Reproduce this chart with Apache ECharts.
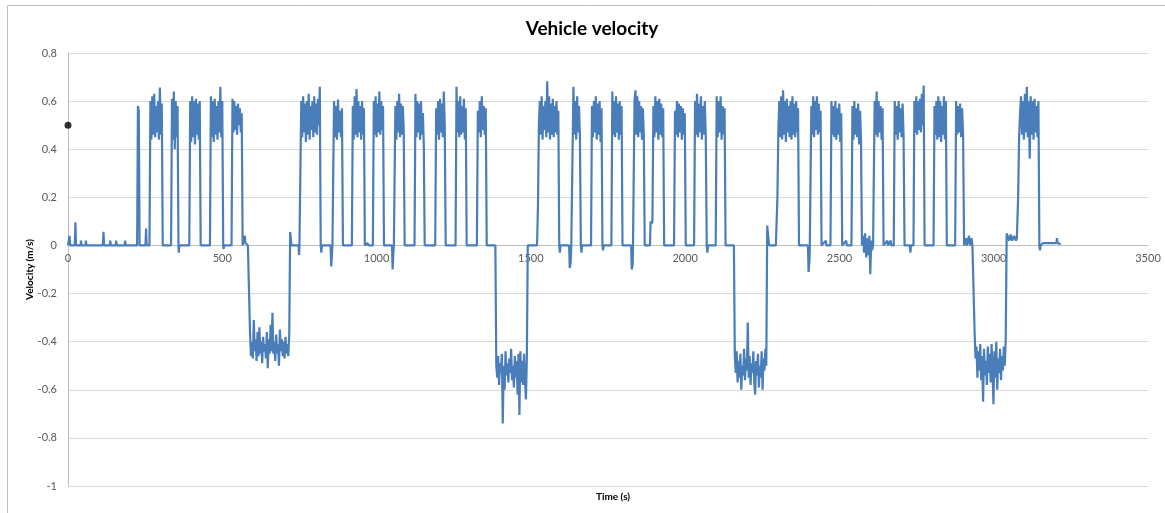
<!DOCTYPE html>
<html>
<head>
<meta charset="utf-8">
<title>Vehicle velocity</title>
<script src="https://cdn.jsdelivr.net/npm/echarts@6/dist/echarts.min.js"></script>
<style>
  html, body { margin: 0; padding: 0; background: #fff; }
  #chart { width: 1165px; height: 513px; }
</style>
</head>
<body>
<div id="chart"></div>
<script>
// axis ticks
var xTicks = [0, 500, 1000, 1500, 2000, 2500, 3000, 3500];
var yTicks = [-1, -0.8, -0.6, -0.4, -0.2, 0, 0.2, 0.4, 0.6, 0.8];

// single marker near the start
var markerPoint = [0, 0.5];

// samples on the zero line and small spikes between the runs (time s, velocity m/s)
var baseTime = [0, 4, 5, 7, 22, 24, 26, 41, 42, 44, 57, 58, 60, 113, 115, 117, 136, 137, 139,
  155, 156, 158, 184, 185, 187, 198, 199, 201, 251, 253, 255, 359, 361, 504, 506,
  572, 573, 575, 583, 724, 747, 749, 750, 821, 823, 851, 853, 856, 857, 970, 975,
  1050, 1052, 1054, 1056, 1594, 1596, 1624, 1626, 1629, 1631, 1664, 1666, 1734, 1736,
  1825, 1827, 1830, 1831, 1886, 1888, 1891, 2072, 2074, 2272, 2294,
  2398, 2400, 2403, 2404, 2456, 2458, 2522, 2524,
  2576, 2580, 2583, 2587, 2590, 2594, 2597, 2600, 2603, 2606, 2609,
  2655, 2657, 2666, 2668, 2728, 2730, 2732, 2910, 2913, 2920, 2923, 2928, 2931,
  3045, 3050, 3055, 3060, 3066, 3072, 3075,
  3150, 3152, 3160, 3170, 3190, 3203, 3205, 3207, 3217];
var baseValue = [0, 0, 0.04, 0, 0, 0.096, 0, 0, 0.02, 0, 0, 0.02, 0, 0, 0.057, 0, 0, 0.02, 0,
  0, 0.02, 0, 0, 0.02, 0, 0, -0.006, 0, 0, 0.07, 0, -0.03, 0, -0.015, 0,
  0, 0.04, 0.01, 0, 0, 0, -0.04, 0, -0.03, 0, 0, -0.087, -0.087, 0, 0.01, 0,
  0, -0.1, -0.04, 0, -0.03, 0, 0, -0.094, -0.07, 0, -0.03, 0, -0.02, 0,
  0, -0.1, -0.08, 0, 0, 0.1, 0.09, -0.03, 0, 0, 0,
  0, -0.11, -0.06, 0, 0.02, 0, 0.02, 0,
  0.04, -0.03, 0.05, -0.05, 0.03, -0.04, 0.04, -0.12, 0.02, -0.02, 0,
  0.02, 0, 0.02, 0, 0, -0.03, 0, 0.03, 0, 0.04, 0, 0.03, 0,
  0.05, 0.02, 0.045, 0.02, 0.04, 0.02, 0.03,
  -0.02, 0, 0.01, 0.01, 0.01, 0.01, 0.03, 0.01, 0.005];

// runs: start time, end time, and the readings spread evenly between them
var segStart = [224, 264, 334, 393, 460, 530, 587, 753, 859, 920, 988, 1058, 1123, 1190, 1256, 1325,
  1385, 1520, 1635, 1695, 1761, 1833, 1894, 1964, 2029, 2099, 2158, 2296, 2406, 2471, 2539,
  2611, 2676, 2740, 2805, 2875, 2935, 3076];
var segEnd = [232, 307, 358, 430, 503, 566, 720, 819, 891, 962, 1024, 1091, 1156, 1224, 1292, 1357,
  1490, 1592, 1662, 1732, 1797, 1869, 1932, 2002, 2070, 2131, 2266, 2369, 2442, 2509, 2573,
  2643, 2711, 2776, 2848, 2904, 3042, 3148];
var segValues = [
  [0, 0.58, 0.56, 0],
  [0, 0.6, 0.44, 0.62, 0.46, 0.63, 0.45, 0.58, 0.47, 0.6, 0.44, 0.656, 0.46, 0.59, 0],
  [0, 0.61, 0.44, 0.64, 0.4, 0.6, 0.45, 0.58, 0],
  [0, 0.6, 0.43, 0.62, 0.45, 0.6, 0.42, 0.61, 0.46, 0.59, 0.44, 0.6, 0],
  [0, 0.62, 0.45, 0.6, 0.43, 0.61, 0.46, 0.58, 0.44, 0.6, 0.47, 0.66, 0.45, 0.6, 0],
  [0, 0.61, 0.47, 0.6, 0.48, 0.58, 0.46, 0.59, 0.5, 0.57, 0.47, 0.55, 0],
  [0, -0.37, -0.46, -0.4, -0.47, -0.31, -0.44, -0.39, -0.48, -0.36, -0.46, -0.34, -0.45, -0.4, -0.49,
    -0.38, -0.44, -0.41, -0.47, -0.36, -0.51, -0.39, -0.45, -0.33, -0.44, -0.28, -0.45, -0.4, -0.48,
    -0.37, -0.45, -0.41, -0.5, -0.35, -0.44, -0.39, -0.46, -0.4, -0.47, -0.38, -0.45, -0.41, -0.46, -0.37, 0.056],
  [0, 0.6, 0.45, 0.62, 0.47, 0.59, 0.43, 0.6, 0.46, 0.63, 0.44, 0.58, 0.48, 0.6, 0.45, 0.62, 0.47, 0.59, 0.46, 0.61, 0.5, 0.66, 0],
  [0, 0.6, 0.45, 0.58, 0.44, 0.607, 0.47, 0.56, 0.45, 0.57, 0],
  [0, 0.58, 0.44, 0.62, 0.46, 0.65, 0.45, 0.6, 0.47, 0.58, 0.44, 0.6, 0.46, 0.57, 0],
  [0, 0.6, 0.46, 0.62, 0.45, 0.59, 0.47, 0.64, 0.46, 0.6, 0.48, 0.58, 0],
  [0, 0.58, 0.44, 0.6, 0.47, 0.63, 0.45, 0.59, 0.46, 0.58, 0.48, 0],
  [0, 0.63, 0.45, 0.6, 0.47, 0.59, 0.44, 0.6, 0.46, 0.55, 0.42, 0],
  [0, 0.57, 0.46, 0.6, 0.44, 0.61, 0.47, 0.59, 0.45, 0.64, 0.5, 0],
  [0, 0.66, 0.47, 0.6, 0.45, 0.62, 0.46, 0.58, 0.47, 0.61, 0.44, 0.57, 0],
  [0, 0.56, 0.47, 0.6, 0.45, 0.62, 0.48, 0.58, 0.46, 0.57, 0],
  [0, -0.5, -0.55, -0.46, -0.58, -0.49, -0.53, -0.45, -0.74, -0.5, -0.6, -0.44, -0.54, -0.49, -0.57, -0.47,
    -0.53, -0.43, -0.56, -0.5, -0.59, -0.46, -0.55, -0.48, -0.62, -0.45, -0.705, -0.44, -0.57, -0.48,
    -0.58, -0.45, -0.55, -0.64, -0.47, 0],
  [0, 0.16, 0.5, 0.6, 0.46, 0.62, 0.44, 0.58, 0.48, 0.6, 0.45, 0.683, 0.47, 0.62, 0.44, 0.59, 0.46, 0.61, 0.45, 0.58, 0.47, 0.6, 0.46, 0.56, 0],
  [0, 0.66, 0.46, 0.6, 0.44, 0.62, 0.47, 0.58, 0.45, 0],
  [0, 0.58, 0.45, 0.6, 0.47, 0.62, 0.44, 0.59, 0.46, 0.6, 0.43, 0.57, 0],
  [0, 0.64, 0.46, 0.6, 0.45, 0.62, 0.47, 0.59, 0.44, 0.6, 0.46, 0.58, 0],
  [0, 0.6, 0.645, 0.46, 0.62, 0.45, 0.6, 0.47, 0.58, 0.44, 0.57, 0.46, 0],
  [0.1, 0.58, 0.45, 0.62, 0.47, 0.6, 0.44, 0.61, 0.46, 0.59, 0.45, 0.57, 0],
  [0, 0.56, 0.46, 0.6, 0.45, 0.59, 0.47, 0.58, 0.44, 0.57, 0.46, 0.55, 0],
  [0, 0.6, 0.46, 0.63, 0.45, 0.59, 0.47, 0.62, 0.44, 0.58, 0.46, 0.6, 0.45, 0],
  [0, 0.62, 0.45, 0.6, 0.47, 0.62, 0.44, 0.58, 0.46, 0.57, 0],
  [0, -0.46, -0.53, -0.44, -0.57, -0.48, -0.55, -0.45, -0.6, -0.5, -0.54, -0.43, -0.56, -0.47, -0.52, -0.32,
    -0.55, -0.46, -0.58, -0.49, -0.53, -0.44, -0.57, -0.62, -0.48, -0.54, -0.45, -0.59, -0.5, -0.55,
    -0.44, -0.6, -0.47, -0.52, -0.43, -0.5, 0.083],
  [0, 0.2, 0.48, 0.6, 0.45, 0.62, 0.44, 0.645, 0.46, 0.6, 0.43, 0.61, 0.47, 0.58, 0.45, 0.6, 0.44, 0.62, 0.46, 0.59, 0.45, 0.6, 0.47, 0.57, 0],
  [0, 0.58, 0.46, 0.62, 0.45, 0.6, 0.48, 0.62, 0.46, 0.59, 0.47, 0.56, 0],
  [0, 0.6, 0.46, 0.58, 0.45, 0.6, 0.44, 0.57, 0.46, 0.59, 0.43, 0.55, 0],
  [0, 0.58, 0.44, 0.6, 0.46, 0.57, 0.45, 0.59, 0.42, 0.56, 0.44, 0],
  [0, 0.6, 0.46, 0.64, 0.45, 0.6, 0.47, 0.58, 0.44, 0.57, 0],
  [0, 0.6, 0.46, 0.58, 0.44, 0.6, 0.47, 0.57, 0.45, 0.59, 0.46, 0],
  [0, 0.6, 0.47, 0.62, 0.46, 0.6, 0.48, 0.61, 0.47, 0.63, 0.5, 0.665, 0],
  [0, 0.58, 0.46, 0.6, 0.44, 0.62, 0.45, 0.6, 0.43, 0.58, 0.46, 0.62, 0.44, 0.6, 0],
  [0, 0.6, 0.46, 0.58, 0.47, 0.59, 0.45, 0.57, 0.46, 0],
  [0, -0.36, -0.47, -0.42, -0.55, -0.44, -0.52, -0.41, -0.56, -0.46, -0.65, -0.43, -0.54, -0.48, -0.58,
    -0.42, -0.53, -0.45, -0.57, -0.41, -0.52, -0.66, -0.44, -0.55, -0.4, -0.6, -0.47, -0.53, -0.43,
    -0.56, -0.46, -0.52, -0.42, -0.5, -0.39, 0.05],
  [0.03, 0.2, 0.45, 0.55, 0.62, 0.46, 0.6, 0.44, 0.63, 0.47, 0.66, 0.45, 0.6, 0.36, 0.62, 0.46, 0.6, 0.44, 0.61, 0.47, 0.58, 0.45, 0.6, 0]
];

// merge everything into one time-ordered trace
var velocity = [];
for (var i = 0; i < baseTime.length; i++) {
  velocity.push([baseTime[i], baseValue[i]]);
}
for (var s = 0; s < segStart.length; s++) {
  var vals = segValues[s];
  var span = segEnd[s] - segStart[s];
  for (var j = 0; j < vals.length; j++) {
    velocity.push([segStart[s] + span * j / (vals.length - 1), vals[j]]);
  }
}
velocity.sort(function (a, b) { return a[0] - b[0]; });

// grid box; the x axis sits on the zero line like the original
var gridTop = 53, gridBottom = 27, chartHeight = 513;
var yMin = yTicks[0], yMax = yTicks[yTicks.length - 1];
var plotHeight = chartHeight - gridTop - gridBottom;
var zeroOffset = -plotHeight * (0 - yMin) / (yMax - yMin);

var font = 'Lato, "Open Sans", sans-serif';
var chart = echarts.init(document.getElementById('chart'));
chart.setOption({
  animation: false,
  backgroundColor: '#fff',
  textStyle: { fontFamily: font },
  title: [{
    text: 'Vehicle velocity',
    left: 587,
    top: 14,
    textAlign: 'center',
    textStyle: { fontFamily: font, fontSize: 19, fontWeight: 'bold', color: '#000' }
  }, {
    text: 'Time (s)',
    left: 608,
    top: 487,
    textAlign: 'center',
    textStyle: { fontFamily: font, fontSize: 10, fontWeight: 'bold', color: '#000' }
  }],
  graphic: [{
    type: 'rect',
    shape: { x: 7.5, y: 5.5, width: 1170, height: 520 },
    style: { fill: 'none', stroke: '#BFBFBF', lineWidth: 1 },
    silent: true
  }],
  grid: { left: 68, right: 17, top: gridTop, bottom: gridBottom },
  xAxis: {
    type: 'value',
    position: 'bottom',
    offset: zeroOffset,
    min: xTicks[0],
    max: xTicks[xTicks.length - 1],
    interval: xTicks[1] - xTicks[0],
    axisLine: { onZero: false, lineStyle: { color: '#BFBFBF', width: 1 } },
    axisTick: { show: false },
    axisLabel: {
      color: '#595959', fontSize: 11, margin: 8, fontFamily: font,
      formatter: function (v) { return String(v); }
    },
    splitLine: { show: false }
  },
  yAxis: {
    type: 'value',
    min: yMin,
    max: yMax,
    interval: 0.2,
    name: 'Velocity (m/s)',
    nameLocation: 'middle',
    nameRotate: 90,
    nameGap: 33,
    nameMoveOverlap: false,
    nameTextStyle: { fontFamily: font, fontSize: 10, fontWeight: 'bold', color: '#000' },
    axisLine: { show: true, onZero: false, lineStyle: { color: '#BFBFBF', width: 1 } },
    axisTick: { show: false },
    axisLabel: {
      color: '#595959', fontSize: 11, margin: 11, fontFamily: font,
      formatter: function (v) { return String(Math.round(v * 10) / 10); }
    },
    splitLine: { show: true, lineStyle: { color: '#D9D9D9', width: 1 } }
  },
  series: [{
    name: 'Velocity',
    type: 'line',
    data: velocity,
    showSymbol: false,
    symbol: 'none',
    lineStyle: { color: '#4A7EBB', width: 2.2 },
    z: 3
  }, {
    name: 'Marker',
    type: 'scatter',
    data: [markerPoint],
    symbolSize: 7,
    itemStyle: { color: '#000' },
    z: 4
  }]
});
</script>
</body>
</html>
